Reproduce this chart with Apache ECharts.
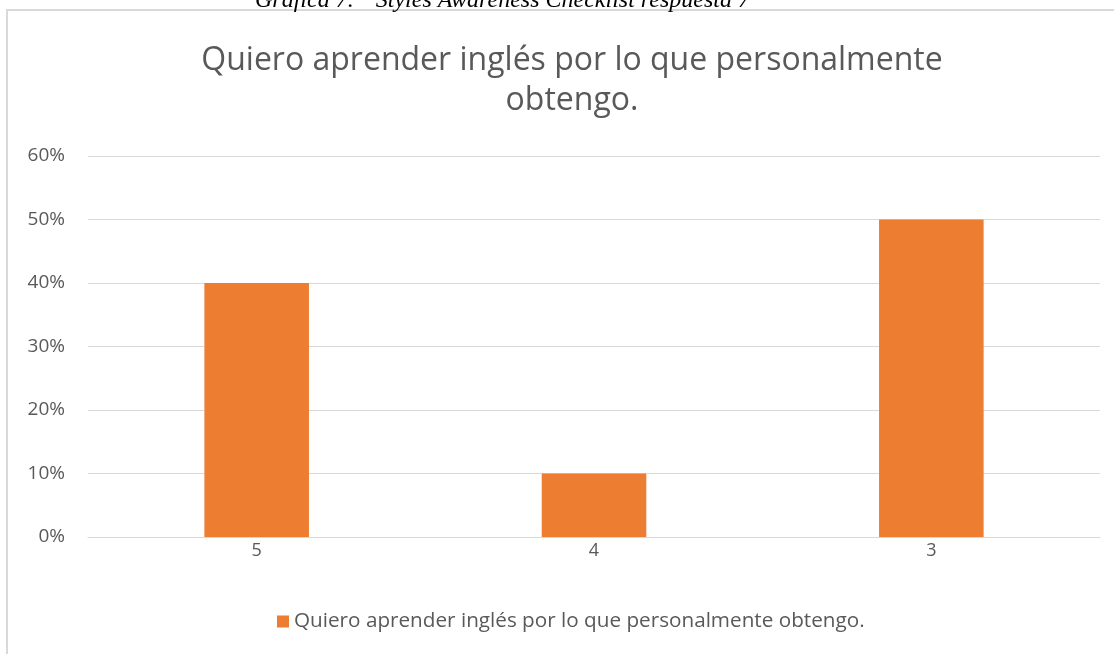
<!DOCTYPE html>
<html>
<head>
<meta charset="utf-8">
<script src="https://cdn.jsdelivr.net/npm/echarts@6/dist/echarts.min.js"></script>
<style>
  html, body { margin: 0; padding: 0; background: #fff; }
  #chart { width: 1114px; height: 654px; }
</style>
</head>
<body>
<div id="chart"></div>
<script>
const categories = ['5', '4', '3']
const values = [0.40, 0.10, 0.50]
const seriesName = 'Quiero aprender inglés por lo que personalmente obtengo.'
const caption = 'Gráfica 7.  "Styles Awareness Checklist respuesta 7'

const textColor = '#595959'
const font = 'Open Sans'

const chart = echarts.init(document.getElementById('chart'))
chart.setOption({
  animation: false,
  textStyle: { fontFamily: font },
  title: {
    text: 'Quiero aprender inglés por lo que personalmente\nobtengo.',
    left: 567,
    top: 36,
    textAlign: 'center',
    textStyle: {
      fontFamily: font,
      fontSize: 32,
      fontWeight: 'normal',
      color: textColor,
      lineHeight: 40
    }
  },
  graphic: [
    {
      type: 'rect',
      shape: { x: 7, y: 10, width: 1300, height: 800 },
      style: { fill: null, stroke: '#d9d9d9', lineWidth: 2 },
      silent: true
    },
    {
      type: 'text',
      x: 255,
      y: 13,
      style: {
        text: caption,
        fontFamily: 'Liberation Serif',
        fontStyle: 'italic',
        fontSize: 24,
        fill: '#000',
        verticalAlign: 'bottom'
      },
      silent: true
    }
  ],
  legend: {
    bottom: 17,
    left: 272,
    itemWidth: 12,
    itemHeight: 12,
    itemGap: 6,
    icon: 'rect',
    textStyle: { fontFamily: font, fontSize: 20.7, color: textColor },
    data: [seriesName]
  },
  grid: {
    left: 88,
    right: 14,
    top: 156,
    bottom: 117,
    containLabel: false
  },
  xAxis: {
    type: 'category',
    data: categories,
    axisLine: { lineStyle: { color: '#d9d9d9', width: 1 } },
    axisTick: { show: false },
    axisLabel: { color: textColor, fontSize: 18, margin: 5, fontFamily: font }
  },
  yAxis: {
    type: 'value',
    min: 0,
    max: 0.6,
    interval: 0.1,
    axisLine: { show: false },
    axisTick: { show: false },
    splitLine: { lineStyle: { color: '#d9d9d9', width: 1 } },
    axisLabel: {
      color: textColor,
      fontSize: 19,
      margin: 23,
      fontFamily: font,
      formatter: v => Math.round(v * 100) + '%'
    }
  },
  series: [
    {
      name: seriesName,
      type: 'bar',
      data: values,
      barWidth: '31%',
      itemStyle: { color: '#ED7D31' }
    }
  ]
})
</script>
</body>
</html>
